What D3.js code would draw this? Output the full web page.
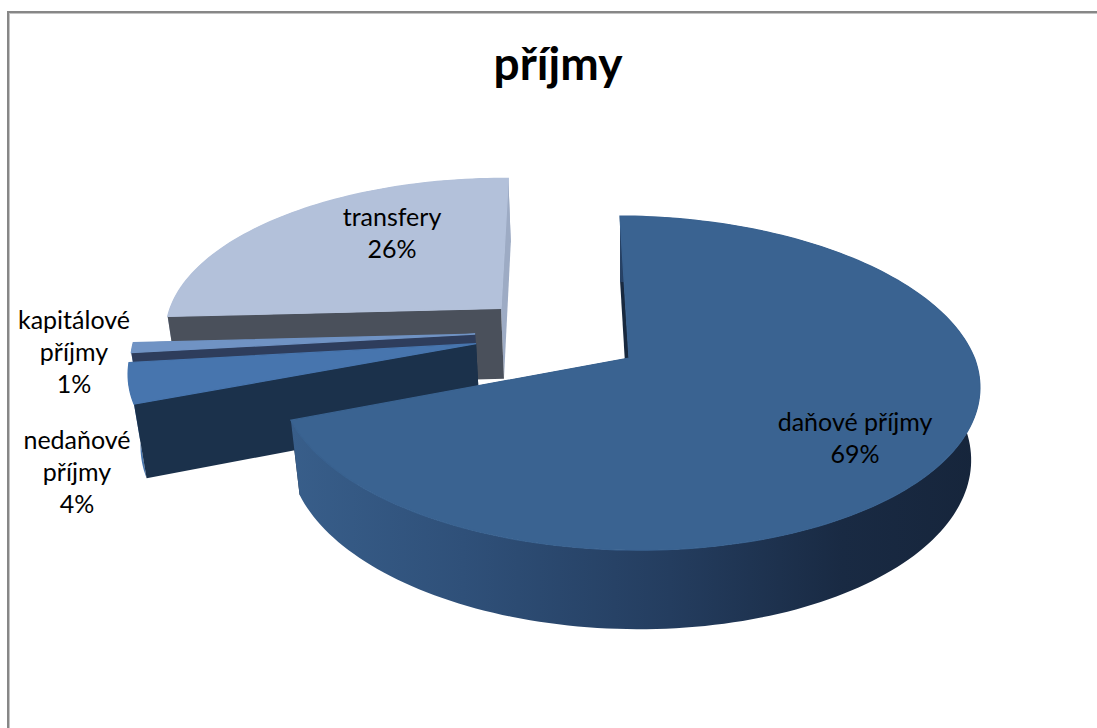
<!DOCTYPE html>
<html lang="cs">
<head>
  <meta charset="UTF-8" />
  <title>příjmy</title>
  <script src="https://d3js.org/d3.v7.min.js"></script>
  <style>
  html, body { margin: 0; padding: 0; background: #fff; overflow: hidden; }
  svg { display: block; font-family: Lato, "Open Sans", sans-serif; }
  text { fill: #000; text-anchor: middle; }
  </style>
</head>
<body>
<script>
// data
const chartTitle = "příjmy";
const categories = ["daňové příjmy", "nedaňové příjmy", "kapitálové příjmy", "transfery"];
const shares = [69, 4, 1, 26];

// looks of each slice, same order as categories
const topColors = ["#3a6391", "#4775ae", "#7093c4", "#b3c1da"];
const wallColors = ["#18293f", "#1b314b", "#2e3d5c", "#4a505b"];
const endWallColors = ["#18293f", "#1b314b", "#2e3d5c", "#9dabc4"];
const offsetX = [0, -0.445, -0.45, -0.378];
const offsetY = [0, -0.085, -0.145, -0.314];
const drawOrder = [3, 2, 1, 0];
const labelLines = [["daňové příjmy"], ["nedaňové", "příjmy"], ["kapitálové", "příjmy"], ["transfery"]];
const labelX = [855, 77, 74, 392];
const labelY = [431, 449, 329, 226];

const width = 1097, height = 728;
const cx = 629, cy = 358;

const svg = d3.select("body").append("svg").attr("width", width).attr("height", height);

// frame, runs off the right and bottom of the picture
svg.append("rect").attr("x", 9.5).attr("y", 13.5).attr("width", 1200).attr("height", 900)
    .attr("fill", "none").attr("stroke", "#c4c4c4").attr("stroke-width", 1);
svg.append("rect").attr("x", 8).attr("y", 12).attr("width", 1200).attr("height", 900)
    .attr("fill", "none").attr("stroke", "#878787").attr("stroke-width", 2);

// disc coordinates -> screen, with a bit of perspective
const sx = d3.scaleLinear().domain([-1, 1]).range([-346, 346]);
const sy = d3.scaleLinear().domain([-1, 1]).range([-163.3, 163.3]);
const shearBack = 10.4, shearFront = 6, skew = 1.5, tilt = 0.15, sink = 0.025, depth = 74;

function project(u, v, h) {
  const s = 1 / (1 - tilt * v + sink * h);
  const shear = v < 0 ? shearBack : shearFront;
  return [cx + (sx(u) + shear * v) * s, cy + (sy(v) + skew * u + depth * h) * s];
}

const pie = d3.pie().sort(null).value(d => d);
const arcs = pie(shares);

const line = d3.line();

function rim(i, h) {
  const a = arcs[i];
  const n = Math.max(4, Math.ceil((a.endAngle - a.startAngle) * 40));
  return d3.range(n + 1).map(k => {
    const t = a.startAngle + (a.endAngle - a.startAngle) * k / n;
    return project(offsetX[i] + Math.sin(t), offsetY[i] - Math.cos(t), h);
  });
}

const defs = svg.append("defs");
const bigRim = rim(0, 0);
const grad = defs.append("linearGradient").attr("id", "wall0")
    .attr("gradientUnits", "userSpaceOnUse")
    .attr("x1", d3.min(bigRim, d => d[0])).attr("x2", d3.max(bigRim, d => d[0]))
    .attr("y1", 0).attr("y2", 0);
grad.selectAll("stop")
  .data([[0, "#385e8a"], [0.25, "#2f5079"], [0.55, "#243d5f"], [0.8, "#192a43"], [1, "#16253b"]])
  .join("stop")
    .attr("offset", d => d[0])
    .attr("stop-color", d => d[1]);

const slices = svg.selectAll("g.slice")
  .data(drawOrder)
  .join("g")
    .attr("class", "slice");

slices.each(function(i) {
  const g = d3.select(this);
  const apexTop = project(offsetX[i], offsetY[i], 0);
  const apexBase = project(offsetX[i], offsetY[i], 1);
  const top = rim(i, 0);
  const base = rim(i, 1);
  const first = 0, last = top.length - 1;

  const endWall = () => g.append("path")
      .attr("d", line([apexTop, top[last], base[last], apexBase]) + "Z")
      .attr("fill", endWallColors[i]);
  const startWall = () => g.append("path")
      .attr("d", line([apexTop, top[first], base[first], apexBase]) + "Z")
      .attr("fill", wallColors[i]);
  const outerWall = () => g.append("path")
      .attr("d", line(top.concat(base.slice().reverse())) + "Z")
      .attr("fill", i === 0 ? "url(#wall0)" : (i === 3 ? "#9dabc4" : topColors[i]));

  // the big slice shows its round wall to the front, the others their cut wall
  endWall();
  if (i === 0) {
    startWall();
    outerWall();
  } else {
    outerWall();
    startWall();
  }

  // top face, stroked so no white shows along the seam with the wall
  g.append("path")
      .attr("d", line([apexTop].concat(top)) + "Z")
      .attr("fill", topColors[i])
      .attr("stroke", topColors[i])
      .attr("stroke-width", 1.2);
});

svg.append("text")
    .attr("x", 558).attr("y", 80)
    .attr("font-size", 46).attr("font-weight", 700)
    .text(chartTitle);

categories.forEach((c, i) => {
  const lines = labelLines[i].concat(shares[i] + "%");
  svg.append("text")
      .attr("font-size", 25)
      .selectAll("tspan")
      .data(lines)
      .join("tspan")
        .attr("x", labelX[i])
        .attr("y", (d, k) => labelY[i] + k * 32)
        .text(d => d);
});
</script>
</body>
</html>
